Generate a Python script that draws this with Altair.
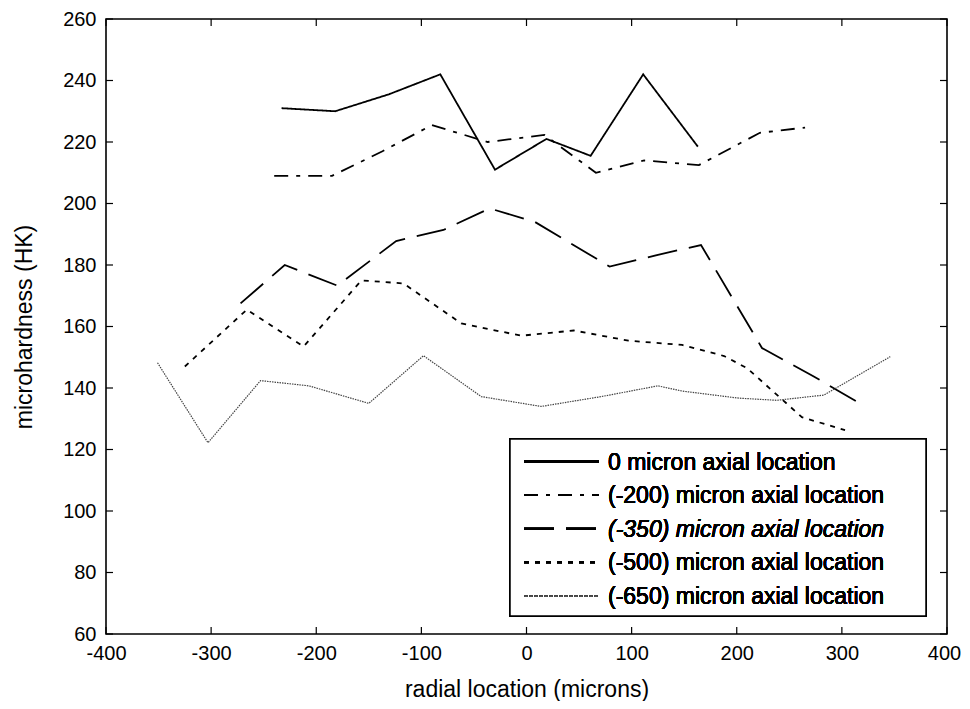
import altair as alt
import pandas as pd

# ---- data ----
series_names = ["0 micron axial location", "(-200) micron axial location",
                "(-350) micron axial location", "(-500) micron axial location",
                "(-650) micron axial location"]

x_0 = [-233, -182, -131, -82, -30, 19, 61, 111, 163]
y_0 = [231, 230, 235.5, 242, 211, 221, 215.5, 242, 218.5]

x_200 = [-240, -185, -137, -90, -37, 17, 66, 112, 164, 222, 265]
y_200 = [209, 209, 217, 225.5, 220, 222.3, 210, 214, 212.5, 223, 224.7]

x_350 = [-272, -230, -180, -124, -79, -35, 8, 79, 125, 166, 224, 272, 322]
y_350 = [167.5, 180, 173.3, 187.8, 191.4, 198.4, 194, 179.5, 183.3, 186.5, 153, 144, 134]

x_500 = [-325, -266, -212, -157, -117, -62, -5, 45, 97, 148, 188, 210, 262, 303]
y_500 = [147, 165.5, 153.5, 175, 174, 161, 157, 158.7, 155.4, 154, 150.4, 146.4, 130.5, 126.3]

x_650 = [-351, -303, -253, -207, -150, -98, -43, 14, 71, 125, 148, 202, 238, 283, 346]
y_650 = [148.2, 122.2, 142.4, 140.7, 135, 150.5, 137.2, 134, 137.2, 140.7, 139, 136.7, 136, 137.7, 150.2]

x_ticks = [-400, -300, -200, -100, 0, 100, 200, 300, 400]
y_ticks = [60, 80, 100, 120, 140, 160, 180, 200, 220, 240, 260]

xs = [x_0, x_200, x_350, x_500, x_650]
ys = [y_0, y_200, y_350, y_500, y_650]

# ---- styling ----
W, H = 841, 615
FONT = "Liberation Sans"
dashes = [[1, 0], [14, 8, 4, 8], [30, 12], [5, 6], [1.5, 1]]
widths = [1.8, 1.8, 1.8, 1.8, 1.2]
colors = ["#000000", "#000000", "#000000", "#000000", "#444444"]
italic = [False, False, True, False, False]

xscale = alt.Scale(domain=[-400, 400], nice=False, zero=False)
yscale = alt.Scale(domain=[60, 260], nice=False, zero=False)

xaxis = alt.Axis(values=x_ticks, ticks=False, tickSize=0, domain=False, grid=False,
                 labelPadding=9, labelFontSize=20, labelFont=FONT, labelColor="black",
                 labelFlush=False, labelOverlap=False, labelExpr="toString(datum.value)",
                 labelOffset={"expr": "datum.value == 400 ? -3 : 0"},
                 title="radial location (microns)", titleFont=FONT, titleFontSize=23,
                 titleFontWeight="normal", titleColor="black",
                 titleX=W / 2, titleY=62, titleBaseline="alphabetic", titleAlign="center")
yaxis = alt.Axis(values=y_ticks, ticks=False, tickSize=0, domain=False, grid=False,
                 labelPadding=10, labelFontSize=20, labelFont=FONT, labelColor="black",
                 labelFlush=False, labelOverlap=False, labelExpr="toString(datum.value)",
                 title="microhardness (HK)", titleFont=FONT, titleFontSize=23,
                 titleFontWeight="normal", titleColor="black",
                 titleX=-75, titleY=H / 2, titleAngle=270, titleBaseline="alphabetic",
                 titleAlign="center")


def X(field):
    return alt.X(field, scale=xscale, axis=xaxis)


def Y(field):
    return alt.Y(field, scale=yscale, axis=yaxis)


layers = []
xt_df = pd.DataFrame({"v": x_ticks})
yt_df = pd.DataFrame({"v": y_ticks})

for i, name in enumerate(series_names):
    df = pd.DataFrame({"x": xs[i], "y": ys[i], "o": list(range(len(xs[i])))})
    layers.append(alt.Chart(df).mark_line(color=colors[i], strokeWidth=widths[i],
                                          strokeDash=dashes[i]).encode(
        x=X("x:Q"), y=Y("y:Q"), order="o:Q"))

# inward tick marks on all four sides
tick_len = 7
layers.append(alt.Chart(xt_df).mark_rule(color="black", strokeWidth=1.2).encode(
    x=X("v:Q"), y=alt.value(H), y2=alt.value(H - tick_len)))
layers.append(alt.Chart(xt_df).mark_rule(color="black", strokeWidth=1.2).encode(
    x=X("v:Q"), y=alt.value(0), y2=alt.value(tick_len)))
layers.append(alt.Chart(yt_df).mark_rule(color="black", strokeWidth=1.2).encode(
    y=Y("v:Q"), x=alt.value(0), x2=alt.value(tick_len)))
layers.append(alt.Chart(yt_df).mark_rule(color="black", strokeWidth=1.2).encode(
    y=Y("v:Q"), x=alt.value(W), x2=alt.value(W - tick_len)))

# legend box
box_l, box_r, box_t, box_b = 404, 820, 420, 597
layers.append(alt.Chart(xt_df).mark_rect(fill="white", stroke="black", strokeWidth=1.5).encode(
    x=alt.value(box_l), x2=alt.value(box_r), y=alt.value(box_t), y2=alt.value(box_b)))

row0, row_step = 442.5, 33.6
for i, name in enumerate(series_names):
    ly = row0 + i * row_step
    layers.append(alt.Chart(xt_df).mark_rule(color=colors[i], strokeWidth=widths[i],
                                             strokeDash=dashes[i]).encode(
        x=alt.value(418), x2=alt.value(493), y=alt.value(ly)))
    layers.append(alt.Chart(xt_df).mark_text(align="left", baseline="middle", font=FONT,
                                             fontSize=23, color="black",
                                             fontStyle="italic" if italic[i] else "normal").encode(
        x=alt.value(502), y=alt.value(ly + 1), text=alt.value(name)))

chart = alt.layer(*layers).properties(
    width=W, height=H,
    autosize=alt.AutoSizeParams(type="none"),
    padding={"left": 98, "top": 11, "right": 15, "bottom": 67},
    background="white",
).configure_view(stroke="black", strokeWidth=1.6)

chart.save("out.html", embed_options={"renderer": "svg", "actions": False})
